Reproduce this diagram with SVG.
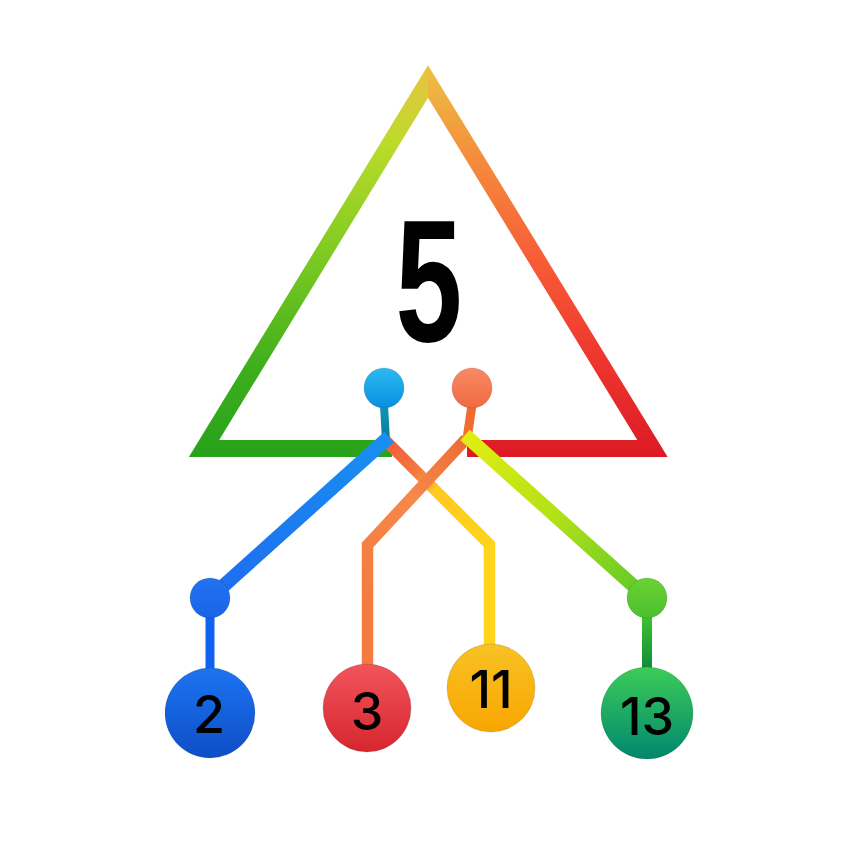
<svg xmlns="http://www.w3.org/2000/svg" width="862" height="862" viewBox="0 0 862 862">
<style>
.num{font-family:Inter,"Noto Sans","Liberation Sans",sans-serif;font-size:52px;font-weight:500;fill:#000;text-anchor:middle}
.big{font-family:"Liberation Sans",Arial,sans-serif;font-weight:bold;font-size:174px;fill:#000;text-anchor:middle}
.ring{stroke:#000;stroke-opacity:0.12;stroke-width:1}
.conn{fill:none;stroke-linecap:butt;stroke-linejoin:miter}
</style>
<defs>
<linearGradient id="gL" gradientUnits="userSpaceOnUse" x1="0" y1="65" x2="0" y2="457">
<stop offset="0" stop-color="#ecc242"/><stop offset="0.2" stop-color="#bcdb2a"/><stop offset="0.5" stop-color="#7ac922"/><stop offset="0.78" stop-color="#3cae1c"/><stop offset="1" stop-color="#28a21a"/>
</linearGradient>
<linearGradient id="gR" gradientUnits="userSpaceOnUse" x1="0" y1="65" x2="0" y2="457">
<stop offset="0" stop-color="#ecc242"/><stop offset="0.25" stop-color="#f58a3c"/><stop offset="0.5" stop-color="#f75c36"/><stop offset="0.75" stop-color="#ee362e"/><stop offset="1" stop-color="#dc1a24"/>
</linearGradient>
<clipPath id="cL"><rect x="0" y="0" width="428" height="862"/></clipPath>
<clipPath id="cR"><rect x="428" y="0" width="434" height="862"/></clipPath>
<linearGradient id="gBlueDot" x1="0" y1="0" x2="0" y2="1"><stop offset="0" stop-color="#2abaf0"/><stop offset="1" stop-color="#0a8fe0"/></linearGradient>
<linearGradient id="gOrDot" x1="0" y1="0" x2="0" y2="1"><stop offset="0" stop-color="#f98a66"/><stop offset="1" stop-color="#f06a42"/></linearGradient>
<linearGradient id="gBlue2" x1="0" y1="0" x2="0" y2="1"><stop offset="0" stop-color="#2272f2"/><stop offset="1" stop-color="#1a64e8"/></linearGradient>
<linearGradient id="gGreenDot" x1="0" y1="0" x2="0" y2="1"><stop offset="0" stop-color="#6ad234"/><stop offset="1" stop-color="#4cc02c"/></linearGradient>
<linearGradient id="gN2" x1="0" y1="0" x2="0" y2="1"><stop offset="0" stop-color="#1c74f2"/><stop offset="1" stop-color="#0e4ec6"/></linearGradient>
<linearGradient id="gN3" x1="0" y1="0" x2="0" y2="1"><stop offset="0" stop-color="#f2545c"/><stop offset="1" stop-color="#d6262e"/></linearGradient>
<linearGradient id="gN11" x1="0" y1="0" x2="0" y2="1"><stop offset="0" stop-color="#f8c224"/><stop offset="1" stop-color="#f8a600"/></linearGradient>
<linearGradient id="gN13" x1="0" y1="0" x2="0" y2="1"><stop offset="0" stop-color="#3ccc58"/><stop offset="1" stop-color="#00876e"/></linearGradient>
<linearGradient id="gBlueLine" gradientUnits="userSpaceOnUse" x1="388" y1="438" x2="210" y2="598"><stop offset="0" stop-color="#1890f0"/><stop offset="1" stop-color="#1e6cf0"/></linearGradient>
<linearGradient id="gYGLine" gradientUnits="userSpaceOnUse" x1="465" y1="436" x2="647" y2="598"><stop offset="0" stop-color="#e2ee10"/><stop offset="0.5" stop-color="#b2e018"/><stop offset="1" stop-color="#5cc828"/></linearGradient>
<linearGradient id="gRY" gradientUnits="userSpaceOnUse" x1="386" y1="441" x2="489.5" y2="544.5"><stop offset="0" stop-color="#f25a3a"/><stop offset="0.3" stop-color="#f47a40"/><stop offset="0.4" stop-color="#fa9a35"/><stop offset="0.47" stop-color="#ffc825"/><stop offset="1" stop-color="#ffd41a"/></linearGradient>
<linearGradient id="gOr" gradientUnits="userSpaceOnUse" x1="466" y1="439" x2="367.5" y2="600"><stop offset="0" stop-color="#ee6c36"/><stop offset="0.4" stop-color="#f5884a"/><stop offset="1" stop-color="#f47c40"/></linearGradient>
<linearGradient id="gGStem" gradientUnits="userSpaceOnUse" x1="0" y1="615" x2="0" y2="672"><stop offset="0" stop-color="#40c232"/><stop offset="1" stop-color="#108838"/></linearGradient>
<linearGradient id="gBStem" gradientUnits="userSpaceOnUse" x1="0" y1="405" x2="0" y2="440"><stop offset="0" stop-color="#1494bc"/><stop offset="1" stop-color="#0a7c98"/></linearGradient>
</defs>

<g id="node-5">
<path clip-path="url(#cL)" d="M 392 448.5 L 204 448.5 L 428 81.5 L 652.5 448.5 L 467 448.5" fill="none" stroke="url(#gL)" stroke-width="17" stroke-linejoin="miter" stroke-miterlimit="10"/>
<path clip-path="url(#cR)" d="M 392 448.5 L 204 448.5 L 428 81.5 L 652.5 448.5 L 467 448.5" fill="none" stroke="url(#gR)" stroke-width="17" stroke-linejoin="miter" stroke-miterlimit="10"/>
<text class="big" transform="translate(429,341) scale(0.69,1)">5</text>
</g>

<g id="connectors">
<line class="conn" x1="384" y1="405" x2="386" y2="441" stroke="url(#gBStem)" stroke-width="8"/>
<line class="conn" x1="472" y1="405" x2="467" y2="439" stroke="#f06c30" stroke-width="9"/>
<line class="conn" x1="210" y1="612" x2="210" y2="672" stroke="#1262f0" stroke-width="9"/>
<line class="conn" x1="647" y1="612" x2="647" y2="672" stroke="url(#gGStem)" stroke-width="10"/>
<path class="conn" d="M 386 441 L 489.5 544.5 L 489.5 650" stroke="url(#gRY)" stroke-width="11.5"/>
<path class="conn" d="M 466 439 L 367.5 545 L 367.5 667" stroke="url(#gOr)" stroke-width="11.5"/>
<path class="conn" d="M 389 437 L 210 598" stroke="url(#gBlueLine)" stroke-width="14"/>
<path class="conn" d="M 465 435 L 647 598" stroke="url(#gYGLine)" stroke-width="14"/>
</g>

<g id="dot-blue"><circle cx="384" cy="388" r="20" fill="url(#gBlueDot)" class="ring"/></g>
<g id="dot-orange"><circle cx="472" cy="388" r="20" fill="url(#gOrDot)" class="ring"/></g>
<g id="dot-blue-2"><circle cx="210" cy="598" r="20" fill="url(#gBlue2)" class="ring"/></g>
<g id="dot-green"><circle cx="647" cy="598" r="20" fill="url(#gGreenDot)" class="ring"/></g>

<g id="node-2"><circle cx="210" cy="713" r="45" fill="url(#gN2)" class="ring"/><text class="num" x="209" y="733">2</text></g>
<g id="node-3"><circle cx="367" cy="708" r="44" fill="url(#gN3)" class="ring"/><text class="num" x="367" y="730">3</text></g>
<g id="node-11"><circle cx="491" cy="688" r="44" fill="url(#gN11)" class="ring"/><text class="num" x="491" y="708">11</text></g>
<g id="node-13"><circle cx="647" cy="713" r="46" fill="url(#gN13)" class="ring"/><text class="num" x="647" y="735">13</text></g>
</svg>
